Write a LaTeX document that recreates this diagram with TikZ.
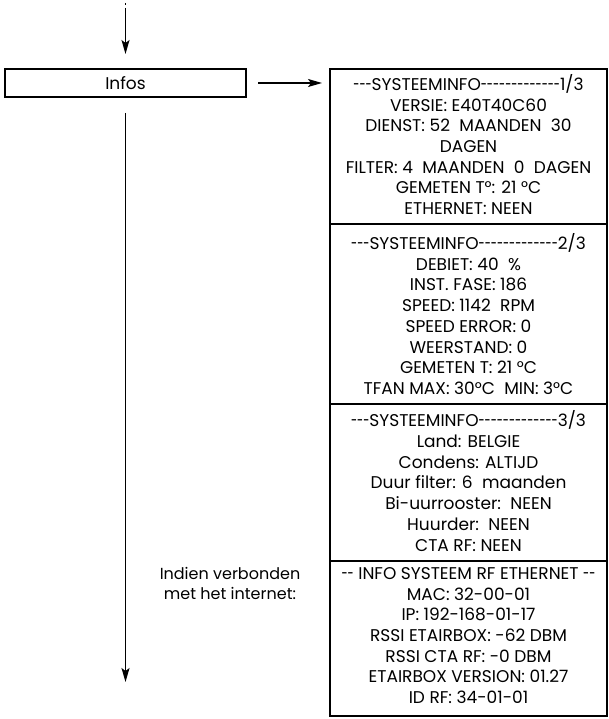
\documentclass[tikz,border=0pt]{standalone}
\usepackage{fontspec}
\usepackage{graphicx}
\setmainfont{Poppins}[Ligatures=TeXOff]
\usetikzlibrary{arrows.meta,calc}
% a wide gap, as between words on the display
\newcommand{\gapw}{\hspace{0.55em}}
% a narrow dash for the screen headers
\newcommand{\hy}{\scalebox{0.65}[1]{-}}
\newcommand{\hyrun}[1]{\foreach \k in {1,...,#1}{\hy}}
\begin{document}
\begin{tikzpicture}[x=1pt,y=-1pt,
  line width=1.3pt,
  txt/.style={font=\fontsize{17}{20.7}\selectfont, inner sep=0pt},
  screen/.style={draw, rectangle, inner sep=0pt, outer sep=0pt, minimum width=277pt},
  screentext/.style={txt, align=center},
  flowarrow/.style={-{Stealth[length=14pt,width=8pt,inset=3pt]}}]
\useasboundingbox (0,0) rectangle (609,719);

% menu entry
\node[draw, rectangle, minimum width=241pt, minimum height=28pt, inner sep=0pt,
  outer sep=0pt, txt] (infos) at (125.5,83) {Infos};

% incoming arrow from above
\coordinate (topdot) at (infos.north |- 0,3);
\coordinate (topline) at (infos.north |- 0,8);
\draw (topdot) -- ++(0,2.5);
\draw[flowarrow, shorten >=15pt] (topline) -- (infos.north);

% the four information screens (frames)
\node[screen, minimum height=155pt] (sys1) at (468.5,146.5) {};
\node[screen, minimum height=180pt, anchor=north] (sys2) at (sys1.south) {};
\node[screen, minimum height=157pt, anchor=north] (sys3) at (sys2.south) {};
\node[screen, minimum height=155pt, anchor=north] (sys4) at (sys3.south) {};

% heavier rules where the screens meet
\foreach \a in {sys1,sys2,sys3}
  \draw[line width=2.2pt] (\a.south west) -- (\a.south east);

% screen contents
\node[screentext] (sys1txt) at ($(sys1.center)+(0,-2)$)
  {\hyrun{3}SYSTEEMINFO\hyrun{13}1/3\\
   VERSIE: E40T40C60\\
   DIENST: 52\gapw MAANDEN\gapw 30\\
   DAGEN\\
   FILTER: 4\gapw MAANDEN\gapw 0\gapw DAGEN\\
   GEMETEN T°: 21 °C\\
   ETHERNET: NEEN};
\node[screentext] (sys2txt) at (sys2.center)
  {\hyrun{3}SYSTEEMINFO\hyrun{13}2/3\\
   DEBIET: 40\gapw \%\\
   INST. FASE: 186\\
   SPEED: 1142\gapw RPM\\
   SPEED ERROR: 0\\
   WEERSTAND: 0\\
   GEMETEN T: 21 °C\\
   TFAN MAX: 30°C\gapw MIN: 3°C};
\node[screentext] (sys3txt) at ($(sys3.center)+(0,-1.5)$)
  {\hyrun{3}SYSTEEMINFO\hyrun{13}3/3\\
   Land: BELGIE\\
   Condens: ALTIJD\\
   Duur filter: 6\gapw maanden\\
   Bi-uurrooster:\gapw NEEN\\
   Huurder:\gapw NEEN\\
   CTA RF: NEEN};
\node[screentext] (sys4txt) at ($(sys4.center)+(0,-3)$)
  {\hy\hy{} INFO SYSTEEM RF ETHERNET \hy\hy\\
   MAC: 32-00-01\\
   IP: 192-168-01-17\\
   RSSI ETAIRBOX: -62 DBM\\
   RSSI CTA RF: -0 DBM\\
   ETAIRBOX VERSION: 01.27\\
   ID RF: 34-01-01};

\node[screentext, font=\fontsize{16}{20.7}\selectfont] (note) at (230,583.5)
  {Indien verbonden\\met het internet:};

% arrows leaving the menu entry
\draw[flowarrow, shorten <=12pt, shorten >=8pt] (infos.east) -- (infos.east -| sys1.west);
\coordinate (bottom) at (infos.south |- 0,682);
\draw[flowarrow, shorten <=16pt] (infos.south) -- (bottom);
\end{tikzpicture}
\end{document}
